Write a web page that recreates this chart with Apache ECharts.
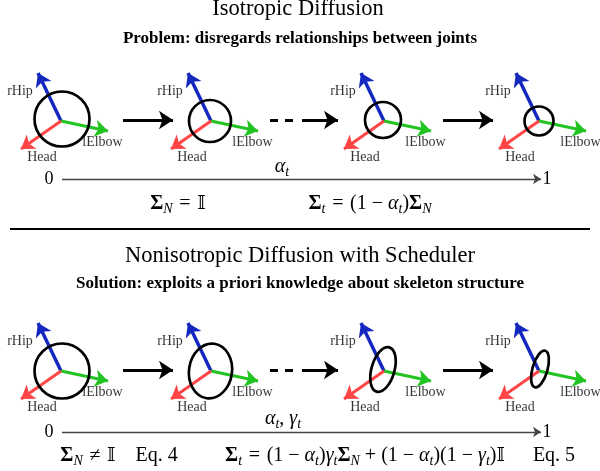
<!DOCTYPE html>
<html><head><meta charset="utf-8">
<script src="https://cdn.jsdelivr.net/npm/echarts@6/dist/echarts.min.js"></script>
<style>html,body{margin:0;padding:0;background:#fff}#c{width:600px;height:471px}</style>
</head><body><div id="c"></div>
<script>
// ---- data ----
const jointNames = ['rHip', 'lElbow', 'Head'];
const jointVectors = [[-23, -48], [47, 10], [-40, 28]];
const stageX = [61, 211, 384, 539];
const rowY = [121, 371];
// isotropic covariance circles: centre x, centre y, radius
const isoCx = [62, 210, 383, 539];
const isoCy = [119, 121, 120, 121];
const isoR = [27.5, 21, 18, 14.5];
// nonisotropic covariance ellipses: centre x, centre y, rx, ry, tilt (deg)
const nonCx = [62, 210.5, 383, 540];
const nonCy = [371, 371, 369.5, 369];
const nonRx = [27.5, 21.5, 11.5, 7.5];
const nonRy = [27.5, 27.5, 23, 19];
const nonTilt = [0, 8, 16, 16];
// step arrows between stages (x from, x to) and dashes
const stepArrows = [[123, 173], [302, 338], [443, 493]];
const stepDashes = [[270, 278], [285, 293]];
const timeline = [62, 541];
const timelineY = [179, 432];

// ---- styles ----
const jointColors = ['#1428bf', '#22c422', '#ff4545'];
const labelOffset = [[-41, -30], [41.5, 21], [-19, 36.5]];
const SERIF = '"Liberation Serif", "Times New Roman", serif';

const chart = echarts.init(document.getElementById('c'), null, {renderer: 'canvas'});

const jointLines = [], jointLabels = [];
rowY.forEach(function (y) {
  stageX.forEach(function (x) {
    jointVectors.forEach(function (v, j) {
      jointLines.push({coords: [[x, y], [x + v[0], y + v[1]]], lineStyle: {color: jointColors[j], width: j === 0 ? 3.5 : 3}});
      jointLabels.push({name: jointNames[j], value: [x + labelOffset[j][0], y + labelOffset[j][1]]});
    });
  });
});
const covData = [];
isoCx.forEach(function (c, i) { covData.push([c, isoCy[i], isoR[i], isoR[i], 0]); });
nonCx.forEach(function (c, i) { covData.push([c, nonCy[i], nonRx[i], nonRy[i], nonTilt[i]]); });

const stepLines = [], dashLines = [], timeLines = [];
rowY.forEach(function (y, r) {
  const ay = y - 1;
  stepArrows.forEach(function (a) { stepLines.push({coords: [[a[0], ay], [a[1], ay]]}); });
  stepDashes.forEach(function (a) { dashLines.push({coords: [[a[0], ay], [a[1], ay]]}); });
  timeLines.push({coords: [[timeline[0], timelineY[r]], [timeline[1], timelineY[r]]]});
});

const richBase = {
  b: {fontFamily: SERIF, fontWeight: 'bold', fontSize: 20},
  n: {fontFamily: SERIF, fontSize: 20},
  i: {fontFamily: SERIF, fontStyle: 'italic', fontSize: 20},
  s: {fontFamily: SERIF, fontStyle: 'italic', fontSize: 14, padding: [10, 0, 0, 0]},
  d: {fontFamily: '"DejaVu Serif", "DejaVu Sans", serif', fontSize: 18}
};
const REL = '\u2004', BIN = '\u2005';
function formula(text, x, y) {
  return {type: 'text', x: x, y: y, style: {text: text, rich: richBase, align: 'center', verticalAlign: 'middle', fill: '#000'}};
}
function plain(text, x, y, size, weight, style) {
  return {type: 'text', x: x, y: y, style: {text: text, fontFamily: SERIF, fontSize: size, fontWeight: weight || 'normal', fontStyle: style || 'normal', align: 'center', verticalAlign: 'middle', fill: '#000'}};
}
const eqR = '{n|' + REL + '=' + REL + '}';
const minus = '{n|(1' + BIN + '−' + BIN + '}';

const graphics = [
  plain('Isotropic Diffusion', 298, 9, 22.5),
  plain('Problem: disregards relationships between joints', 300, 39, 17, 'bold'),
  plain('Nonisotropic Diffusion with Scheduler', 300, 256, 22.5),
  plain('Solution: exploits a priori knowledge about skeleton structure', 300, 284, 17, 'bold'),
  plain('0', 49, timelineY[0], 18), plain('1', 547, timelineY[0], 18),
  plain('0', 49, timelineY[1], 18), plain('1', 547, timelineY[1], 18),
  formula('{i|α}{s|t}', 282, 167),
  formula('{i|α}{s|t}{n|, }{i|γ}{s|t}', 283, 419),
  formula('{b|Σ}{s|N}' + eqR + '{d|𝕀}', 178, 204),
  formula('{b|Σ}{s|t}' + eqR + minus + '{i|α}{s|t}{n|)}{b|Σ}{s|N}', 370, 204),
  formula('{b|Σ}{s|N}{n|' + REL + '≠' + REL + '}{d|𝕀}{n|\u2003Eq. 4}', 119, 456),
  formula('{b|Σ}{s|t}' + eqR + minus + '{i|α}{s|t}{n|)}{i|γ}{s|t}{b|Σ}{s|N}{n|' + BIN + '+' + BIN + '}' + minus + '{i|α}{s|t}{n|)}' + minus + '{i|γ}{s|t}{n|)}{d|𝕀}', 365, 456),
  formula('{n|Eq. 5}', 554, 456),
  {type: 'line', shape: {x1: 10, y1: 229, x2: 590, y2: 229}, style: {stroke: '#000', lineWidth: 2}}
];

chart.setOption({
  animation: false,
  grid: {left: 0, right: 0, top: 0, bottom: 0},
  xAxis: {type: 'value', min: 0, max: 600, show: false},
  yAxis: {type: 'value', min: 0, max: 471, inverse: true, show: false},
  graphic: graphics,
  series: [
    {
      type: 'custom', coordinateSystem: 'cartesian2d', data: covData, z: 3,
      renderItem: function (params, api) {
        const c = api.coord([api.value(0), api.value(1)]);
        const s = api.size([api.value(2), api.value(3)]);
        return {type: 'ellipse', x: c[0], y: c[1], rotation: -api.value(4) * Math.PI / 180,
          shape: {cx: 0, cy: 0, rx: s[0], ry: s[1]},
          style: {fill: 'none', stroke: '#000', lineWidth: 2.7}};
      }
    },
    {type: 'lines', coordinateSystem: 'cartesian2d', data: jointLines, z: 2,
      symbol: ['none', 'arrow'], symbolSize: 13, lineStyle: {width: 3, opacity: 1}},
    {type: 'lines', coordinateSystem: 'cartesian2d', data: stepLines,
      symbol: ['none', 'arrow'], symbolSize: 14, lineStyle: {color: '#000', width: 3, opacity: 1}},
    {type: 'lines', coordinateSystem: 'cartesian2d', data: dashLines,
      symbol: 'none', lineStyle: {color: '#000', width: 3, opacity: 1}},
    {type: 'lines', coordinateSystem: 'cartesian2d', data: timeLines,
      symbol: ['none', 'arrow'], symbolSize: [7, 8], lineStyle: {color: '#444', width: 1.4, opacity: 1}},
    {type: 'scatter', data: jointLabels, symbolSize: 0, z: 4,
      label: {show: true, position: 'inside', formatter: function (p) { return p.name; },
        fontFamily: SERIF, fontSize: 14, color: '#000'}}
  ]
});
</script></body></html>
